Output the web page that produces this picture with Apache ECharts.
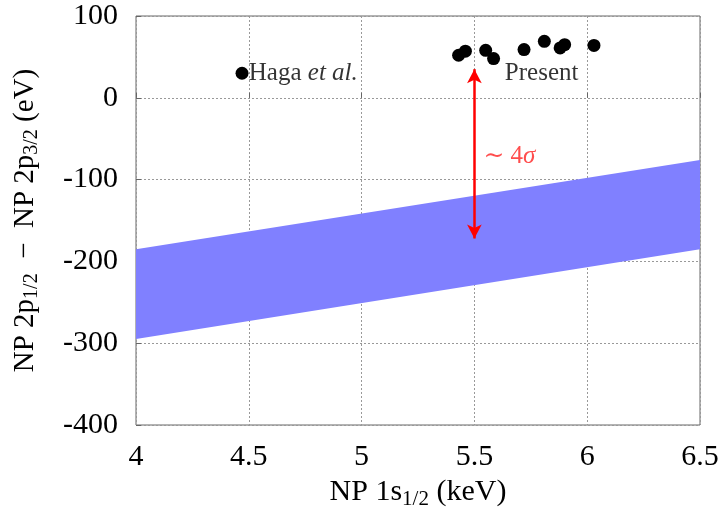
<!DOCTYPE html>
<html>
<head>
    <meta charset="utf-8">
    <title>NP 2p splitting</title>
    <script src="https://cdn.jsdelivr.net/npm/echarts@6/dist/echarts.min.js"></script>
    <style>
        html, body { margin: 0; padding: 0; background: #fff; }
        #main { width: 723px; height: 510px; }
    </style>
</head>
<body>
<div id="main"></div>
<script type="text/javascript">
    // data
    var hagaPoint = [[4.47, 30]];
    var presentPoints = [
        [5.43, 52], [5.46, 57], [5.55, 58], [5.585, 48], [5.72, 59],
        [5.81, 69], [5.88, 61], [5.90, 65], [6.03, 64]
    ];
    // band edges: x, lower, upper
    var bandX = [4, 6.5];
    var bandLow = [-295, -185];
    var bandHigh = [-185, -76];
    var arrowX = 5.5;
    var arrowEnds = [35, -172];
    var labels = [
        { name: 'haga', at: [4.5, 30] },
        { name: 'present', at: [5.635, 30] },
        { name: 'sigma', at: [5.54, -72] }
    ];

    var bandData = bandX.map((x, i) => [x, bandLow[i], bandHigh[i]]);
    var serif = '"Liberation Serif", "DejaVu Serif", serif';

    var chart = echarts.init(document.getElementById('main'));

    var nameRich = {
        n: { fontFamily: serif, fontSize: 30, color: '#000' },
        s: { fontFamily: serif, fontSize: 21, color: '#000', padding: [15, 0, 0, 0] }
    };
    var yNameRich = {
        n: { fontFamily: serif, fontSize: 29, color: '#000' },
        s: { fontFamily: serif, fontSize: 20, color: '#000', padding: [14, 0, 0, 0] }
    };

    var option = {
        animation: false,
        backgroundColor: '#fff',
        textStyle: { fontFamily: serif },
        grid: {
            left: 136, right: 23, top: 16, bottom: 85,
            outerBoundsMode: 'none',
            show: true, borderColor: '#666', borderWidth: 1
        },
        xAxis: {
            type: 'value', min: 4, max: 6.5, interval: 0.5,
            name: '{n|NP 1s}{s|1/2}{n| (keV)}',
            nameLocation: 'middle', nameGap: 45,
            nameTextStyle: { rich: nameRich },
            axisLine: { show: false },
            axisTick: { inside: true, length: 5, lineStyle: { color: '#666' } },
            axisLabel: { fontFamily: serif, fontSize: 30, color: '#000', margin: 17 },
            splitLine: { lineStyle: { type: [2, 2], color: '#999' } }
        },
        yAxis: {
            type: 'value', min: -400, max: 100, interval: 100,
            name: '{n|NP 2p}{s|1/2}{n|  −  NP 2p}{s|3/2}{n| (eV)}',
            nameLocation: 'middle', nameGap: 94,
            nameTextStyle: { rich: yNameRich },
            axisLine: { show: false },
            axisTick: { inside: true, length: 5, lineStyle: { color: '#666' } },
            axisLabel: { fontFamily: serif, fontSize: 30, color: '#000', margin: 18 },
            splitLine: { lineStyle: { type: [2, 2], color: '#999' } }
        },
        series: [
            {
                name: 'band',
                type: 'custom',
                data: bandData,
                z: 1,
                renderItem: function (params, api) {
                    if (params.dataIndex !== 0) return;
                    var top = bandData.map((d) => api.coord([d[0], d[2]]));
                    var bot = bandData.map((d) => api.coord([d[0], d[1]])).reverse();
                    return {
                        type: 'polygon',
                        shape: { points: top.concat(bot) },
                        style: { fill: '#8080ff' }
                    };
                }
            },
            {
                name: 'arrow',
                type: 'line',
                data: [],
                z: 5,
                markLine: {
                    silent: true,
                    symbol: ['arrow', 'arrow'],
                    symbolSize: [11, 14],
                    label: { show: false },
                    lineStyle: { color: '#ff0000', width: 2.5, type: 'solid' },
                    data: [[
                        { coord: [arrowX, arrowEnds[0]] },
                        { coord: [arrowX, arrowEnds[1]] }
                    ]]
                }
            },
            {
                name: 'Haga et al.',
                type: 'scatter',
                data: hagaPoint,
                symbol: 'circle',
                symbolSize: 13,
                itemStyle: { color: '#000', opacity: 1 },
                z: 6
            },
            {
                name: 'Present',
                type: 'scatter',
                data: presentPoints,
                symbol: 'circle',
                symbolSize: 13,
                itemStyle: { color: '#000', opacity: 1 },
                z: 6
            },
            {
                name: 'labels',
                type: 'scatter',
                symbolSize: 0,
                silent: true,
                z: 7,
                data: labels.map((l) => ({ name: l.name, value: l.at })),
                label: {
                    show: true,
                    position: 'right',
                    distance: 0,
                    formatter: function (p) {
                        if (p.name === 'haga') return '{n|Haga }{i|et al.}';
                        if (p.name === 'present') return '{n|Present}';
                        return '{r|∼ 4}{ri|σ}';
                    },
                    rich: {
                        n: { fontFamily: serif, fontSize: 25, color: '#000' },
                        i: { fontFamily: serif, fontSize: 25, fontStyle: 'italic', color: '#000' },
                        r: { fontFamily: serif, fontSize: 25, color: '#ff2020' },
                        ri: { fontFamily: serif, fontSize: 25, fontStyle: 'italic', color: '#ff2020' }
                    }
                }
            }
        ]
    };

    chart.setOption(option);
</script>
</body>
</html>
